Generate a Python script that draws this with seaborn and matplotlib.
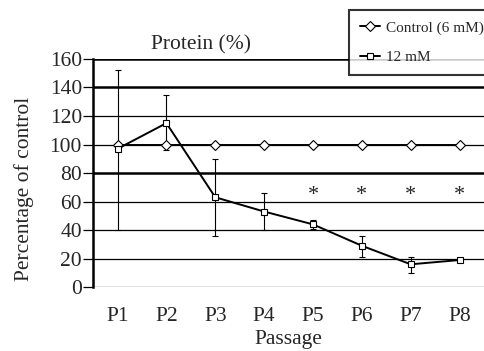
import matplotlib
matplotlib.use("Agg")
import matplotlib.pyplot as plt
import seaborn as sns
import numpy as np
import pandas as pd

passages = ["P1", "P2", "P3", "P4", "P5", "P6", "P7", "P8"]
control = [100, 100, 100, 100, 100, 100, 100, 100]
treated = [97, 115, 63, 53, 44, 29, 16, 19]
treated_upper = [152, 135, 90, 66, 47, 36, 21, 20]
treated_lower = [40, 96, 36, 40, 41, 21, 10, 18]
star_passages = ["P5", "P6", "P7", "P8"]
star_level = 64
yticks = [0, 20, 40, 60, 80, 100, 120, 140, 160]
thick_lines = [80, 140, 160]
series_names = ["Control (6 mM)", "12 mM"]

sns.set_theme(style="white")
plt.rcParams["font.family"] = ["Liberation Serif", "DejaVu Serif"]

fig = plt.figure(figsize=(4.85, 3.51), dpi=100)
ax = fig.add_axes([0.192, 0.182, 0.806, 0.650])

x = np.arange(len(passages))
df = pd.DataFrame({"x": np.concatenate([x, x]),
                   "value": control + treated,
                   "group": [series_names[0]] * len(x) + [series_names[1]] * len(x)})

for yv in yticks:
    lw = 1.8 if yv in thick_lines else 0.9
    ax.axhline(yv, color="black", lw=lw, zorder=0)

tr = np.array(treated)
ax.errorbar(x, tr, yerr=[tr - np.array(treated_lower), np.array(treated_upper) - tr],
            fmt="none", ecolor="black", elinewidth=0.8, capsize=2, capthick=0.8, zorder=2)

sns.lineplot(data=df, x="x", y="value", hue="group", style="group",
             markers={series_names[0]: "D", series_names[1]: "s"}, dashes=False,
             palette={series_names[0]: "black", series_names[1]: "black"},
             ax=ax, lw=1.4, markersize=5, markerfacecolor="white",
             markeredgecolor="black", markeredgewidth=0.8, zorder=3, legend=True)

for p in star_passages:
    ax.text(passages.index(p), star_level, "*", ha="center", va="center", fontsize=16)

ax.set_xlim(-0.5, 7.5)
ax.set_ylim(0, 160)
ax.set_yticks(yticks)
ax.set_xticks(x)
ax.set_xticklabels(passages)
ax.set_xticks(np.arange(0.5, 8.0, 1.0), minor=True)
ax.tick_params(axis="x", which="major", length=0, pad=14, labelsize=15.5)
ax.tick_params(axis="x", which="minor", length=8, direction="inout", width=1, color="black")
ax.tick_params(axis="y", length=7, width=0.9, labelsize=15.5, pad=1, color="black", left=True)
for s in ["top", "right", "bottom"]:
    ax.spines[s].set_visible(False)
ax.spines["left"].set_color("black")
ax.spines["left"].set_linewidth(1.8)

ax.set_xlabel("Passage", fontsize=15.5, labelpad=3)
ax.set_ylabel("Percentage of control", fontsize=15.5)
ax.yaxis.set_label_coords(-0.15, 0.43)
ax.set_title("Protein (%)", fontsize=15.5, x=0.275, pad=7)

handles, labels = ax.get_legend_handles_labels()
ax.get_legend().remove()
leg = fig.legend(handles, labels, loc="upper left", bbox_to_anchor=(349 / 485, 1 - 10 / 351),
                 fontsize=11, frameon=True, fancybox=False, edgecolor="black",
                 handlelength=1.3, handletextpad=0.4, borderpad=0.7, labelspacing=1.05,
                 borderaxespad=0)
leg.get_frame().set_linewidth(1.5)

fig.savefig("out.png", dpi=100)
